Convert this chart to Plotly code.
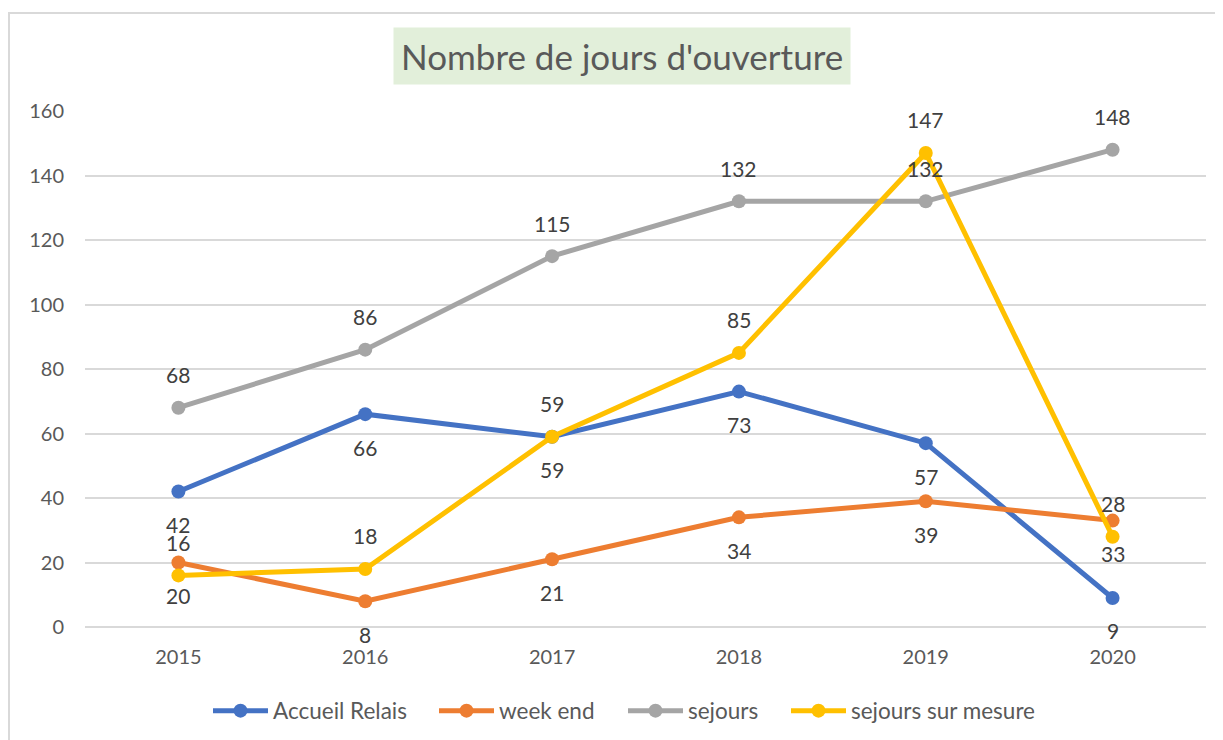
import plotly.graph_objects as go

years = ["2015", "2016", "2017", "2018", "2019", "2020"]
accueil_relais = [42, 66, 59, 73, 57, 9]
week_end = [20, 8, 21, 34, 39, 33]
sejours = [68, 86, 115, 132, 132, 148]
sejours_sur_mesure = [16, 18, 59, 85, 147, 28]

series = [
    ("Accueil Relais", accueil_relais, "#4472C4", -33),
    ("week end", week_end, "#ED7D31", -33),
    ("sejours", sejours, "#A5A5A5", 33),
    ("sejours sur mesure", sejours_sur_mesure, "#FFC000", 33),
]
# left edge (page px) of each legend entry
legend_starts = [208, 434, 623, 786]

FONT = "Lato"
OFF = 8  # page body margin

# plot area spans page px 85..1206 horizontally and 111..627 vertically
def px_x(p):
    return (p - 85) / 1121.0

def px_y(p):
    return (627 - p) / 516.0

fig = go.Figure()
annotations = []
legend_layouts = {}
for k, (name, vals, color, shift) in enumerate(series):
    lname = "legend" if k == 0 else f"legend{k + 1}"
    fig.add_trace(go.Scatter(
        x=years, y=vals, name=name, mode="lines+markers",
        line=dict(color=color, width=5),
        marker=dict(color=color, size=14),
        legend=lname,
    ))
    legend_layouts[lname] = dict(
        orientation="h", x=px_x(legend_starts[k]), xanchor="left",
        y=px_y(711), yanchor="middle",
        font=dict(family=FONT, size=22.5, color="#595959"), itemwidth=55,
        bgcolor="rgba(0,0,0,0)",
    )
    for i, yv in enumerate(vals):
        annotations.append(dict(
            x=i, y=yv, xref="x", yref="y", text=str(yv), showarrow=False,
            yshift=shift, font=dict(family=FONT, size=21, color="#404040"),
        ))

annotations.append(dict(
    x=px_x(621.5), y=px_y(56), xref="paper", yref="paper", xanchor="center", yanchor="middle",
    text="Nombre de jours d'ouverture", showarrow=False,
    font=dict(family=FONT, size=35, color="#595959"),
    bgcolor="#E2EFDA", borderpad=7,
))

fig.add_shape(type="rect", xref="paper", yref="paper",
              x0=px_x(9), x1=px_x(1260), y0=px_y(780), y1=px_y(13),
              line=dict(color="#D9D9D9", width=2), fillcolor="rgba(0,0,0,0)", layer="below")

fig.update_layout(
    width=1223 - OFF, height=740 - OFF,
    margin=dict(l=85 - OFF, r=1223 - 1206, t=111 - OFF, b=740 - 627, autoexpand=False),
    paper_bgcolor="white", plot_bgcolor="white",
    font=dict(family=FONT, color="#595959"),
    showlegend=True,
    annotations=annotations,
    **legend_layouts,
)
fig.update_xaxes(
    type="category", range=[-0.5, 5.5], showgrid=False, zeroline=False, showline=False,
    tickfont=dict(family=FONT, size=20, color="#595959"), ticklabelstandoff=16, automargin=False,
)
fig.update_yaxes(
    range=[0, 160], dtick=20, showgrid=True, gridcolor="#D9D9D9", gridwidth=1.5,
    zeroline=True, zerolinecolor="#D9D9D9", zerolinewidth=1.5, showline=False,
    tickfont=dict(family=FONT, size=20, color="#595959"), ticklabelstandoff=20, automargin=False,
)

fig.write_html("out.html")
